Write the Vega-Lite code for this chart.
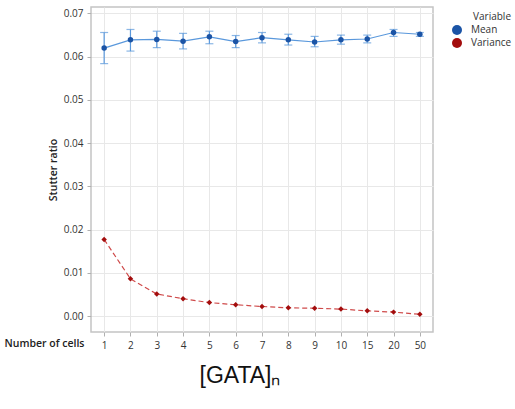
{
  "$schema": "https://vega.github.io/schema/vega-lite/v6.json",
  "width": 342,
  "height": 325,
  "autosize": "none",
  "padding": {"left": 91, "top": 7, "right": 82, "bottom": 77},
  "background": "white",
  "config": {
    "font": "Open Sans",
    "view": {"stroke": "#c4c4c4", "strokeWidth": 1.5},
    "axis": {
      "labelFont": "Open Sans",
      "labelFontSize": 10,
      "labelColor": "#333333",
      "titleFont": "Open Sans",
      "titleColor": "#222222",
      "gridColor": "#e8e8e8",
      "gridWidth": 1,
      "tickColor": "#b0b0b0",
      "tickSize": 4,
      "domain": false
    }
  },
  "title": {
    "text": "[GATA]ₙ",
    "orient": "bottom",
    "anchor": "middle",
    "font": "Liberation Sans",
    "fontSize": 23,
    "fontWeight": "normal",
    "color": "#111111",
    "offset": 15,
    "dx": -22
  },
  "data": {
    "values": [
      {"cells": "1", "variable": "Mean", "value": 0.0620, "lo": 0.0584, "hi": 0.0656},
      {"cells": "2", "variable": "Mean", "value": 0.0639, "lo": 0.0613, "hi": 0.0663},
      {"cells": "3", "variable": "Mean", "value": 0.0640, "lo": 0.0621, "hi": 0.0659},
      {"cells": "4", "variable": "Mean", "value": 0.0636, "lo": 0.0618, "hi": 0.0654},
      {"cells": "5", "variable": "Mean", "value": 0.0646, "lo": 0.0630, "hi": 0.0659},
      {"cells": "6", "variable": "Mean", "value": 0.0635, "lo": 0.0621, "hi": 0.0649},
      {"cells": "7", "variable": "Mean", "value": 0.0644, "lo": 0.0632, "hi": 0.0656},
      {"cells": "8", "variable": "Mean", "value": 0.0639, "lo": 0.0627, "hi": 0.0652},
      {"cells": "9", "variable": "Mean", "value": 0.0634, "lo": 0.0623, "hi": 0.0647},
      {"cells": "10", "variable": "Mean", "value": 0.0639, "lo": 0.0629, "hi": 0.0650},
      {"cells": "15", "variable": "Mean", "value": 0.0641, "lo": 0.0632, "hi": 0.0650},
      {"cells": "20", "variable": "Mean", "value": 0.0656, "lo": 0.0647, "hi": 0.0663},
      {"cells": "50", "variable": "Mean", "value": 0.0652, "lo": 0.0647, "hi": 0.0656},
      {"cells": "1", "variable": "Variance", "value": 0.0177},
      {"cells": "2", "variable": "Variance", "value": 0.0086},
      {"cells": "3", "variable": "Variance", "value": 0.0051},
      {"cells": "4", "variable": "Variance", "value": 0.0040},
      {"cells": "5", "variable": "Variance", "value": 0.0031},
      {"cells": "6", "variable": "Variance", "value": 0.0026},
      {"cells": "7", "variable": "Variance", "value": 0.0022},
      {"cells": "8", "variable": "Variance", "value": 0.0019},
      {"cells": "9", "variable": "Variance", "value": 0.0018},
      {"cells": "10", "variable": "Variance", "value": 0.0016},
      {"cells": "15", "variable": "Variance", "value": 0.0012},
      {"cells": "20", "variable": "Variance", "value": 0.0009},
      {"cells": "50", "variable": "Variance", "value": 0.0004}
    ]
  },
  "encoding": {
    "x": {
      "field": "cells",
      "type": "ordinal",
      "sort": ["1", "2", "3", "4", "5", "6", "7", "8", "9", "10", "15", "20", "50"],
      "scale": {"type": "point", "padding": 0.5},
      "axis": {
        "title": "Number of cells",
        "titleAngle": 0,
        "titleAlign": "center",
        "titleBaseline": "middle",
        "titleX": -47,
        "titleY": 11,
        "titleFontSize": 10.5,
        "titleFontWeight": 600,
        "labelAngle": 0,
        "labelPadding": 4,
        "grid": true
      }
    },
    "y": {
      "field": "value",
      "type": "quantitative",
      "scale": {"domain": [-0.0037, 0.0715], "nice": false, "zero": false},
      "axis": {
        "title": "Stutter ratio",
        "titleFontSize": 10.5,
        "titleFontWeight": 600,
        "titlePadding": 5,
        "values": [0, 0.01, 0.02, 0.03, 0.04, 0.05, 0.06, 0.07],
        "format": ".2f",
        "labelPadding": 4
      }
    }
  },
  "layer": [
    {
      "transform": [{"filter": "datum.variable === 'Mean'"}],
      "mark": {"type": "rule", "color": "#5a98dc", "strokeWidth": 1.2},
      "encoding": {"y": {"field": "lo", "type": "quantitative"}, "y2": {"field": "hi"}}
    },
    {
      "transform": [{"filter": "datum.variable === 'Mean'"}],
      "mark": {"type": "tick", "orient": "horizontal", "color": "#5a98dc", "size": 8, "thickness": 1.2},
      "encoding": {"y": {"field": "lo", "type": "quantitative"}}
    },
    {
      "transform": [{"filter": "datum.variable === 'Mean'"}],
      "mark": {"type": "tick", "orient": "horizontal", "color": "#5a98dc", "size": 8, "thickness": 1.2},
      "encoding": {"y": {"field": "hi", "type": "quantitative"}}
    },
    {
      "transform": [{"filter": "datum.variable === 'Mean'"}],
      "mark": {"type": "line", "color": "#5a98dc", "strokeWidth": 1.2},
      "encoding": {}
    },
    {
      "transform": [{"filter": "datum.variable === 'Variance'"}],
      "mark": {"type": "line", "color": "#cf4a4a", "strokeWidth": 1.2, "strokeDash": [5, 3]},
      "encoding": {}
    },
    {
      "transform": [{"filter": "datum.variable === 'Variance'"}],
      "mark": {"type": "point", "filled": true, "opacity": 1, "shape": "diamond", "color": "#a30d0d", "size": 30},
      "encoding": {}
    },
    {
      "transform": [{"filter": "datum.variable === 'Mean'"}],
      "mark": {"type": "point", "filled": true, "opacity": 1, "size": 30},
      "encoding": {
        "color": {
          "field": "variable",
          "type": "nominal",
          "scale": {"domain": ["Mean", "Variance"], "range": ["#1b54a6", "#a30d0d"]},
          "legend": {
            "title": "Variable",
            "orient": "none",
            "legendX": 360,
            "legendY": 5,
            "titleAnchor": "end",
            "titleFont": "Open Sans",
            "titleFontSize": 10,
            "titleFontWeight": "normal",
            "titleColor": "#333333",
            "titlePadding": 2,
            "labelFont": "Open Sans",
            "labelFontSize": 10,
            "labelColor": "#333333",
            "labelOffset": 8,
            "rowPadding": 2
          }
        }
      }
    }
  ]
}
